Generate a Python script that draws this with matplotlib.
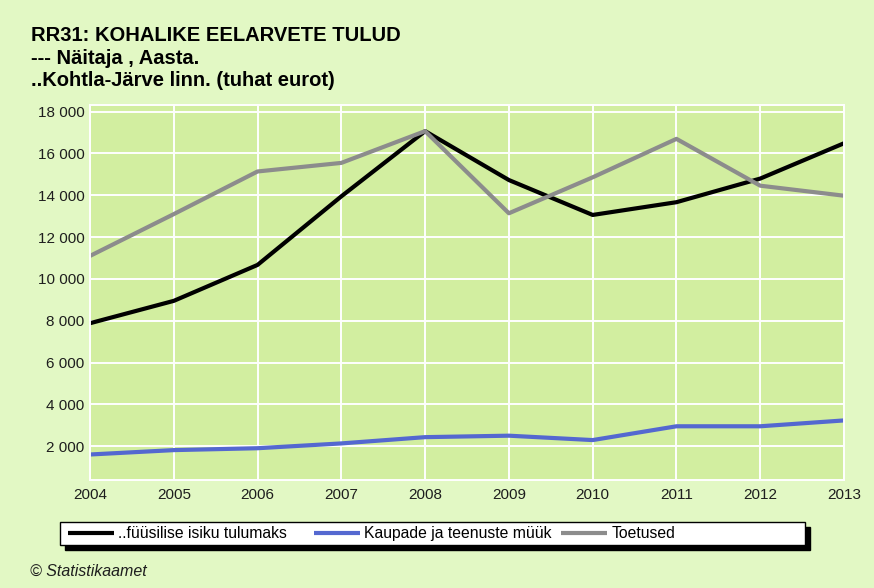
import matplotlib
matplotlib.use("Agg")
import matplotlib.pyplot as plt
from matplotlib.patches import Rectangle

years = [2004, 2005, 2006, 2007, 2008, 2009, 2010, 2011, 2012, 2013]
tulumaks = [7880, 8950, 10670, 13950, 17070, 14730, 13060, 13670, 14800, 16490]
muuk = [1600, 1810, 1900, 2130, 2430, 2500, 2290, 2950, 2950, 3230]
toetused = [11100, 13100, 15140, 15550, 17070, 13140, 14860, 16700, 14460, 13980]

series_names = ["..füüsilise isiku tulumaks", "Kaupade ja teenuste müük", "Toetused"]
series_colors = ["#000000", "#5468d0", "#8c8c8c"]
yticks = [2000, 4000, 6000, 8000, 10000, 12000, 14000, 16000, 18000]
ytick_labels = ["2 000", "4 000", "6 000", "8 000", "10 000", "12 000", "14 000", "16 000", "18 000"]
title_lines = ["RR31: KOHALIKE EELARVETE TULUD", "--- Näitaja , Aasta.", "..Kohtla-Järve linn. (tuhat eurot)"]

W, H = 874, 588
plt.rcParams['font.family'] = ['Liberation Sans', 'DejaVu Sans']
fig = plt.figure(figsize=(W / 100, H / 100), dpi=100)
fig.patch.set_facecolor("#e2f8c4")

ax = fig.add_axes([90 / W, 1 - 480 / H, 754 / W, 375 / H])
ax.set_facecolor("#d2eea0")
ax.set_xlim(2004, 2013)
ax.set_ylim(380, 18320)
ax.set_xticks(years)
ax.set_xticklabels([str(y) for y in years])
ax.set_yticks(yticks)
ax.set_yticklabels(ytick_labels)
ax.tick_params(length=0, labelsize=11, labelcolor="#1e1e1e")
ax.tick_params(axis="x", pad=6)
ax.tick_params(axis="y", pad=4)
ax.grid(True, color="white", linewidth=1.4)
ax.set_axisbelow(True)
for s in ax.spines.values():
    s.set_color("white")
    s.set_linewidth(1.4)

lines = []
for vals, name, col in zip([tulumaks, muuk, toetused], series_names, series_colors):
    ln, = ax.plot(years, vals, color=col, linewidth=3.0, label=name, solid_capstyle="butt", clip_on=False)
    lines.append(ln)

# titles
baselines = [41, 63.5, 86]
for txt, b in zip(title_lines, baselines):
    fig.text(31 / W, 1 - b / H, txt, fontsize=14.5, fontweight="bold", va="baseline", ha="left", color="black")

# legend box with shadow
fig.patches.append(Rectangle((65 / W, 1 - 550 / H), 745 / W, 23 / H, transform=fig.transFigure,
                             facecolor="black", edgecolor="black", zorder=1))
fig.patches.append(Rectangle((60 / W, 1 - 545 / H), 745 / W, 23 / H, transform=fig.transFigure,
                             facecolor="white", edgecolor="black", linewidth=1.0, zorder=2))
handle_x = [68, 314, 561]
for ln, hx in zip(lines, handle_x):
    fig.legend(handles=[ln], labels=[ln.get_label()], loc="center left",
               bbox_to_anchor=(hx / W, 1 - 533.5 / H), frameon=False, borderpad=0,
               borderaxespad=0, handlelength=2.95, handletextpad=0.25, fontsize=11.3)

fig.text(30 / W, 1 - 576 / H, "© Statistikaamet", fontsize=11.5, style="italic", va="baseline", ha="left", color="#1e1e1e")

fig.savefig("out.png", dpi=100, facecolor=fig.get_facecolor())
